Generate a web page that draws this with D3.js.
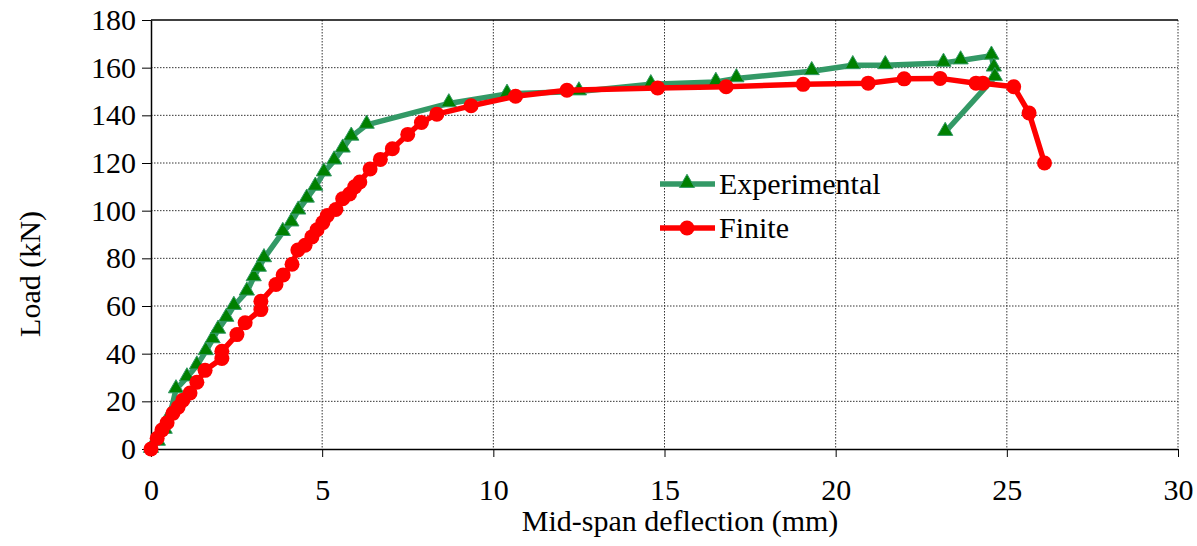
<!DOCTYPE html>
<html>
<head>
<meta charset="utf-8">
<script src="https://cdn.jsdelivr.net/npm/d3@7"></script>
<style>
  body { margin: 0; background: #fff; }
  svg text { font-family: "Liberation Serif", "Times New Roman", serif; }
</style>
</head>
<body>
<svg id="chart" width="1197" height="546"></svg>
<script>
// Experimental series (deflection mm, load kN)
var expX = [0, 0.2, 0.4, 0.55, 0.73, 1.05, 1.34, 1.6, 1.8, 1.96, 2.2, 2.42, 2.8, 3.0, 3.15, 3.3,
  3.85, 4.1, 4.3, 4.55, 4.8, 5.05, 5.35, 5.6, 5.85, 6.3, 8.7, 10.4, 12.5, 14.6, 16.5, 17.1,
  19.3, 20.5, 21.45, 23.15, 23.65, 24.55, 24.62, 24.65, 23.2];
var expY = [0, 3, 8, 14, 25, 30, 35, 41, 46, 50, 55, 60, 66, 72, 76, 80,
  91, 95, 100, 105, 110, 116, 121, 126, 131, 136, 145, 149, 150, 153, 154, 155.5,
  158.5, 161, 161, 162, 163, 165, 160, 156, 133];

// Finite element series
var feX = [0, 0.18, 0.32, 0.47, 0.64, 0.79, 0.93, 1.14, 1.34, 1.58, 2.07, 2.07, 2.51, 2.75,
  3.21, 3.21, 3.65, 3.86, 4.12, 4.29, 4.5, 4.7, 4.85, 5.02, 5.15, 5.4, 5.6, 5.8, 5.95, 6.1,
  6.4, 6.7, 7.05, 7.5, 7.9, 8.35, 9.35, 10.65, 12.15, 14.8, 16.8, 19.05, 20.95, 22.0, 23.05,
  24.1, 24.3, 25.2, 25.65, 26.1];
var feY = [0, 4.5, 8, 11, 15, 17.5, 20.5, 23.5, 28, 33, 38, 41, 48, 53,
  58.5, 62, 69, 73, 77.5, 83.5, 85.5, 89, 92, 95, 98, 100.5, 105, 107, 110, 112,
  117.5, 121.5, 126, 132, 137, 140.5, 144, 148, 150.5, 151.5, 152, 153, 153.5, 155.3, 155.5,
  153.5, 153.5, 152, 141, 120];

var xTicks = [0, 5, 10, 15, 20, 25, 30];
var yTicks = [0, 20, 40, 60, 80, 100, 120, 140, 160, 180];

var expData = expX.map((d, i) => ({ x: d, y: expY[i] }));
var feData = feX.map((d, i) => ({ x: d, y: feY[i] }));

var dimensions = {
  width: 1197,
  height: 546,
  margin: { top: 20, right: 19, bottom: 97, left: 151 },
};
var fontSize = "30px";

var svg = d3.select("#chart");

var xScale = d3
  .scaleLinear()
  .domain([0, 30])
  .range([dimensions.margin.left, dimensions.width - dimensions.margin.right]);

var yScale = d3
  .scaleLinear()
  .domain([0, 180])
  .range([dimensions.height - dimensions.margin.bottom, dimensions.margin.top]);

var x0 = xScale(0), x1 = xScale(30), y0 = yScale(0), y1 = yScale(180);

// gridlines
svg.append("g")
  .selectAll("line")
  .data(yTicks.filter((d) => d > 0 && d < 180))
  .enter()
  .append("line")
  .attr("x1", x0).attr("x2", x1)
  .attr("y1", (d) => yScale(d)).attr("y2", (d) => yScale(d))
  .attr("stroke", "#333")
  .attr("stroke-width", 1)
  .attr("stroke-dasharray", "1.5,1.5");

svg.append("g")
  .selectAll("line")
  .data(xTicks.filter((d) => d > 0))
  .enter()
  .append("line")
  .attr("x1", (d) => xScale(d)).attr("x2", (d) => xScale(d))
  .attr("y1", y1).attr("y2", y0)
  .attr("stroke", "#333")
  .attr("stroke-width", 1)
  .attr("stroke-dasharray", "1.5,1.5");

// top border
svg.append("line")
  .attr("x1", x0).attr("x2", x1)
  .attr("y1", y1).attr("y2", y1)
  .attr("stroke", "#000").attr("stroke-width", 1.5);

// axes
var xAxisgen = d3.axisBottom(xScale).tickValues(xTicks).tickSizeInner(8).tickSizeOuter(0);
var yAxisgen = d3.axisLeft(yScale).tickValues(yTicks).tickSizeInner(9).tickSizeOuter(0).tickPadding(6);

var xAxis = svg.append("g")
  .attr("transform", `translate(0,${y0})`)
  .call(xAxisgen);
var yAxis = svg.append("g")
  .attr("transform", `translate(${x0},0)`)
  .call(yAxisgen);

[xAxis, yAxis].forEach((g) => {
  g.attr("font-family", null).attr("font-size", null);
  g.select(".domain").attr("stroke", "#000").attr("stroke-width", 1.5);
  g.selectAll(".tick line").attr("stroke", "#000");
  g.selectAll(".tick text")
    .attr("fill", "#000")
    .style("font-size", fontSize);
});
xAxis.selectAll(".tick text").attr("y", 51).attr("dy", 0);

// axis titles
svg.append("text")
  .attr("x", 680)
  .attr("y", 531)
  .attr("text-anchor", "middle")
  .style("font-size", fontSize)
  .text("Mid-span deflection (mm)");

svg.append("text")
  .attr("transform", "translate(40,274) rotate(-90)")
  .attr("text-anchor", "middle")
  .style("font-size", fontSize)
  .text("Load (kN)");

var line = d3.line().x((d) => xScale(d.x)).y((d) => yScale(d.y));
var tri = d3.symbol().type(d3.symbolTriangle).size(100);

// experimental
svg.append("path")
  .datum(expData)
  .attr("d", line)
  .attr("fill", "none")
  .attr("stroke", "#339966")
  .attr("stroke-width", 5.5)
  .attr("stroke-linejoin", "round");

svg.append("g")
  .selectAll("path")
  .data(expData)
  .enter()
  .append("path")
  .attr("d", tri)
  .attr("transform", (d) => `translate(${xScale(d.x)},${yScale(d.y) - 1})`)
  .attr("fill", "#008000")
  .attr("stroke", "#339966")
  .attr("stroke-width", 1);

// finite
svg.append("path")
  .datum(feData)
  .attr("d", line)
  .attr("fill", "none")
  .attr("stroke", "#ff0000")
  .attr("stroke-width", 5.5)
  .attr("stroke-linejoin", "round");

svg.append("g")
  .selectAll("circle")
  .data(feData)
  .enter()
  .append("circle")
  .attr("cx", (d) => xScale(d.x))
  .attr("cy", (d) => yScale(d.y))
  .attr("r", 7.5)
  .attr("fill", "#ff0000");

// legend
var legend = svg.append("g");
legend.append("line")
  .attr("x1", 660).attr("x2", 715).attr("y1", 184).attr("y2", 184)
  .attr("stroke", "#339966").attr("stroke-width", 5.5);
legend.append("path")
  .attr("d", tri)
  .attr("transform", "translate(687,183)")
  .attr("fill", "#008000").attr("stroke", "#339966");
legend.append("text")
  .attr("x", 719).attr("y", 194)
  .style("font-size", fontSize)
  .text("Experimental");

legend.append("line")
  .attr("x1", 660).attr("x2", 715).attr("y1", 228).attr("y2", 228)
  .attr("stroke", "#ff0000").attr("stroke-width", 5.5);
legend.append("circle")
  .attr("cx", 687).attr("cy", 228).attr("r", 7.5)
  .attr("fill", "#ff0000");
legend.append("text")
  .attr("x", 719).attr("y", 238)
  .style("font-size", fontSize)
  .text("Finite");
</script>
</body>
</html>
